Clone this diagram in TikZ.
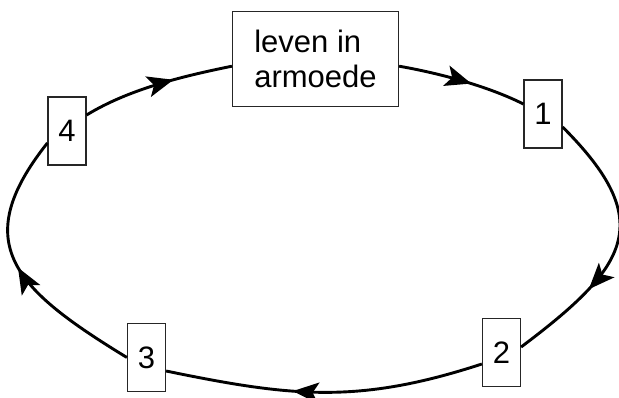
\documentclass[tikz,border=0pt]{standalone}
\usepackage{fontspec}
\setmainfont{Liberation Sans}
\usetikzlibrary{arrows.meta,calc,decorations.markings}
\tikzset{
  box/.style={draw=black!85, line width=1.2pt, fill=white, inner sep=0pt,
    font=\fontsize{31}{35}\selectfont},
  numbox/.style={box, minimum width=38pt, minimum height=68pt},
  conn/.style={line width=2.9pt, postaction={decorate},
    decoration={markings, mark=at position #1 with
      {\arrow{Stealth[length=26pt 0,width=21pt 0,inset=6pt 0]}}}},
  conn/.default=0.55
}
\begin{document}
\begin{tikzpicture}[x=1pt,y=-1pt]
\useasboundingbox (0,0) rectangle (619,398);
\node[box, minimum width=166pt, minimum height=95pt, align=left] (top) at (315.5,59.2) {leven in\\armoede};
\node[numbox] (n1) at (543,114) {1};
\node[numbox] (n2) at (501.5,352.5) {2};
\node[numbox] (n3) at (146.5,357.5) {3};
\node[numbox] (n4) at (67,131) {4};
\draw[conn=0.57] ($(top.east)+(0,7)$) .. controls +(40,7) and +(-36,-18) .. ($(n1.west)+(0,-10)$);
\draw[conn=0.68] ($(n1.east)+(0,13)$) .. controls +(94.5,94.5) and +(108,-81) .. ($(n2.east)+(0,-5.5)$);
\draw[conn=0.6] ($(n2.west)+(0,11.5)$) .. controls +(-123.5,40.3) and +(126,26) .. ($(n3.east)+(0,13.5)$);
\draw[conn=0.51] ($(n3.west)+(0,0)$) .. controls +(-110.5,-67.6) and +(-80.6,101.4) .. ($(n4.west)+(0,12)$);
\draw[conn=0.61] ($(n4.east)+(0,-16)$) .. controls +(42.5,-26) and +(-49,10) .. ($(top.west)+(0,7)$);
\end{tikzpicture}
\end{document}
